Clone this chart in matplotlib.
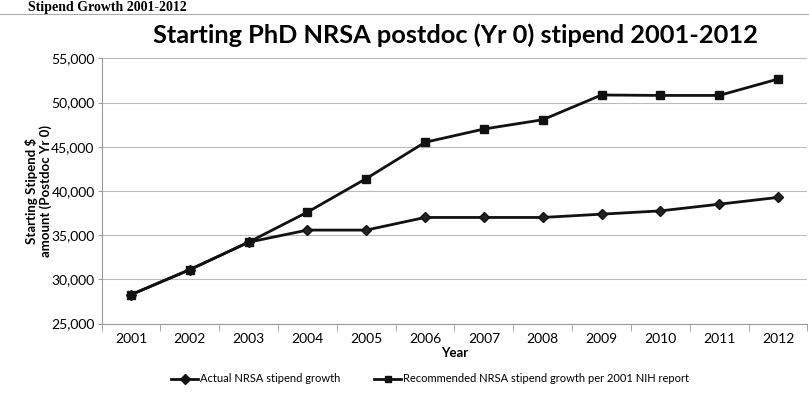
import matplotlib
matplotlib.use("Agg")
import matplotlib.pyplot as plt
from matplotlib.lines import Line2D

years = ["2001", "2002", "2003", "2004", "2005", "2006", "2007", "2008", "2009", "2010", "2011", "2012"]
actual = [28260, 31092, 34200, 35568, 35568, 36996, 36996, 36996, 37368, 37740, 38496, 39264]
recommended = [28260, 31092, 34200, 37600, 41400, 45500, 47000, 48050, 50850, 50800, 50800, 52650]
y_ticks = [25000, 30000, 35000, 40000, 45000, 50000, 55000]

fam = ["Lato", "DejaVu Sans"]
plt.rcParams["font.family"] = fam

fig = plt.figure(figsize=(8.09, 4.04), dpi=100)
ax = fig.add_axes([101.6/809, 1-323.5/404, (807.4-101.6)/809, (323.5-58.3)/404])

x = list(range(1, len(years)+1))
ax.plot(x, actual, color="#111111", lw=2, marker="D", ms=5.5, mfc="#222222", mec="#111111", zorder=3)
ax.plot(x, recommended, color="#111111", lw=2, marker="s", ms=5.5, mfc="#111111", mec="#111111", zorder=3)

ax.set_xlim(0.5, len(years)+0.5)
ax.set_ylim(25000, 55000)
ax.set_yticks(y_ticks)
ax.set_yticklabels([f"{v:,}" for v in y_ticks], fontsize=10)
ax.set_xticks(x)
ax.set_xticklabels(years, fontsize=10)
ax.set_xticks([i + 0.5 for i in range(0, len(years)+1)], minor=True)
ax.tick_params(axis="x", which="major", length=0, pad=7)
ax.tick_params(axis="x", which="minor", length=5, color="#999999")
ax.tick_params(axis="y", length=3, color="#999999", pad=2)
ax.grid(axis="y", color="#bbbbbb", lw=0.8)
ax.set_axisbelow(True)
for s in ["top", "right"]:
    ax.spines[s].set_visible(False)
ax.spines["left"].set_color("#999999")
ax.spines["bottom"].set_color("#999999")

ax.set_xlabel("Year", fontsize=9.5, fontweight="bold", labelpad=1)
ax.set_ylabel("Starting Stipend $\namount (Postdoc Yr 0)", fontsize=9.5, fontweight="bold", linespacing=1.1)
ax.yaxis.set_label_coords((52 - 101.6) / 705.8, 0.5)

fig.text(455/809, 1-35/404, "Starting PhD NRSA postdoc (Yr 0) stipend 2001-2012",
         ha="center", va="center", fontsize=18.3, fontweight="bold")

fig.text(0.035, 1-11/404, "Stipend Growth 2001-2012", ha="left", va="baseline",
         fontsize=10, fontweight="bold", family=["Liberation Serif", "DejaVu Serif"])
fig.add_artist(Line2D([0, 1], [1-14/404, 1-14/404], color="#aaaaaa", lw=0.8))

handles = [Line2D([], [], color="#111111", lw=2, marker="D", ms=5),
           Line2D([], [], color="#111111", lw=2, marker="s", ms=5)]
fig.legend(handles, ["Actual NRSA stipend growth", "Recommended NRSA stipend growth per 2001 NIH report"],
           loc="center", bbox_to_anchor=(430/809, 1-379/404), ncol=2, frameon=False, fontsize=8,
           handlelength=2.4, handletextpad=0.15, columnspacing=3.1)

fig.savefig("out.png", dpi=100)
